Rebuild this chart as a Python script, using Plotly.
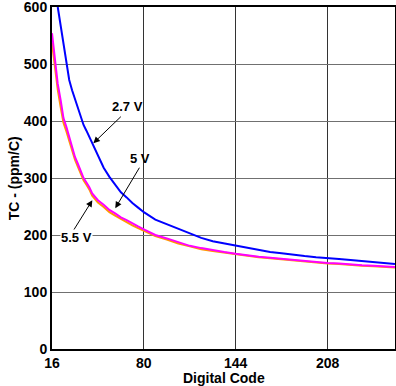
import plotly.graph_objects as go

x_blue = [20, 22, 24, 26, 28, 30, 32, 34, 36, 38, 40, 44, 48, 52, 56, 60, 64, 68, 72, 76, 80,
          88, 96, 104, 112, 120, 128, 136, 144, 152, 160, 168, 176, 184, 192, 200, 208, 216,
          224, 232, 240, 248, 255]
tc_27 = [600, 568, 533, 497, 472, 454, 438, 421, 408, 393, 383, 361, 340, 318, 302, 288, 275, 266,
         256, 248, 240, 227, 219, 211, 203, 195, 189, 185, 182, 177, 173, 170, 168, 165, 163, 161,
         160, 158, 156, 154, 152, 150, 149]

x_other = [16, 18, 20, 22, 24, 26, 28, 30, 32, 34, 36, 38, 40, 42, 44, 48, 52, 56, 60, 64, 68, 72,
           76, 80, 88, 96, 104, 112, 120, 128, 136, 144, 152, 160, 168, 176, 184, 192, 200, 208,
           216, 224, 232, 240, 248, 255]
tc_55 = [554, 510, 465, 437, 405, 390, 372, 352, 337, 325, 313, 300, 292, 284, 273, 261, 253, 244,
         238, 231, 226, 220, 215, 210, 200, 194, 187, 181, 177, 173, 170, 167, 164, 162, 160, 158,
         156, 154, 152, 151, 150, 148, 147, 146, 145, 144]
tc_5 = [537, 495, 455, 425, 397, 382, 364, 346, 332, 320, 308, 296, 288, 280, 269, 257, 249, 240,
        234, 228, 223, 217, 212, 207, 198, 192, 185, 180, 175, 172, 169, 166, 163, 161, 159, 157,
        155, 153, 151, 150, 149, 147, 146, 145, 144, 143]

x_ticks = [16, 80, 144, 208]
y_ticks = [0, 100, 200, 300, 400, 500, 600]

fig = go.Figure()
fig.add_trace(go.Scatter(x=x_other, y=tc_5, mode="lines", line=dict(color="#ff9900", width=2),
                         name="5 V"))
fig.add_trace(go.Scatter(x=x_other, y=tc_55, mode="lines", line=dict(color="#ff00ff", width=2),
                         name="5.5 V"))
fig.add_trace(go.Scatter(x=x_blue, y=tc_27, mode="lines", line=dict(color="#0000ff", width=2),
                         name="2.7 V"))

FAM = "Liberation Sans, Arial, sans-serif"
font = dict(family=FAM, size=14, color="black")
afont = dict(family=FAM, size=13, color="black")

annos = [
    dict(x=44.8, y=361, ax=29, ay=-28),
    dict(x=60.1, y=247, ax=25, ay=-42),
    dict(x=44.1, y=261, ax=-20, ay=32),
]
for a in annos:
    fig.add_annotation(x=a["x"], y=a["y"], ax=a["ax"], ay=a["ay"], text="", showarrow=True,
                       arrowhead=2, arrowsize=1.3, arrowwidth=1, arrowcolor="black",
                       xref="x", yref="y")

texts = [("<b>2.7 V</b>", 68.5, 425, None), ("<b>5 V</b>", 77.6, 334, None),
         ("<b>5.5 V</b>", 32.9, 195, "white")]
for t, tx, ty, bg in texts:
    fig.add_annotation(x=tx, y=ty, text=t, showarrow=False, font=afont,
                       bgcolor=bg if bg else "rgba(0,0,0,0)", borderpad=0)

# axis titles
fig.add_annotation(xref="paper", yref="paper", x=0.5, y=-0.085, yanchor="middle",
                   text="<b>Digital Code</b>", showarrow=False, font=font)
fig.add_annotation(xref="paper", yref="paper", x=-0.11, y=0.5, xanchor="center",
                   yanchor="middle", textangle=-90,
                   text="<b>TC - (ppm/C)</b>", showarrow=False, font=font)

fig.update_layout(
    width=396, height=386,
    margin=dict(l=52, r=1, t=7, b=37, autoexpand=False),
    paper_bgcolor="white", plot_bgcolor="white",
    showlegend=False,
    font=font,
)
fig.update_xaxes(range=[16, 255], tickvals=x_ticks, ticktext=[f"<b>{v}</b>" for v in x_ticks],
                 showgrid=True, gridcolor="#333333", gridwidth=1, automargin=False,
                 showline=True, linecolor="black", linewidth=2, mirror=True,
                 ticks="", zeroline=False, tickfont=font, ticklabeloverflow="allow")
fig.update_yaxes(range=[0, 600], tickvals=y_ticks, ticktext=[f"<b>{v}</b>" for v in y_ticks],
                 showgrid=True, gridcolor="#707070", gridwidth=1, automargin=False,
                 showline=True, linecolor="black", linewidth=2, mirror=True,
                 ticks="", zeroline=False, tickfont=font, ticklabeloverflow="allow")

fig.write_html("out.html", config={"displayModeBar": False},
               post_script="document.body.style.margin='0';document.body.style.padding='0';")
